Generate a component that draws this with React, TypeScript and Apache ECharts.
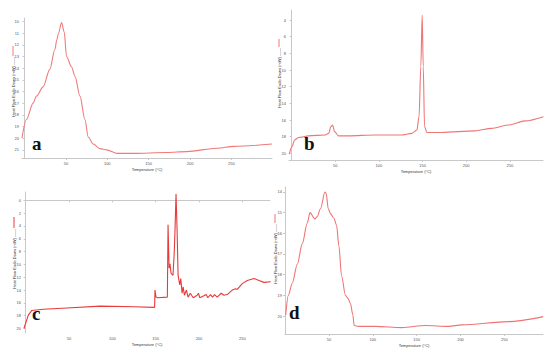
import React, { useEffect, useRef } from "react";
import * as echarts from "echarts";

const tempA = [-3, 2.4, 10.4, 14.5, 22.5, 30.6, 36.7, 39, 40.7, 44.8, 48, 50.8, 56.9, 61, 67, 73, 77, 83, 91.2, 99.3, 111.4, 131.6, 172, 196, 232.6, 252.8, 299];
const flowA = [19.97, 18.4, 17.0, 16.4, 15.6, 14.1, 12.4, 11.6, 11.1, 10.1, 10.9, 13.0, 13.9, 14.7, 16.4, 18.4, 19.9, 20.5, 20.9, 21.0, 21.3, 21.3, 21.23, 21.15, 20.86, 20.7, 20.5];

const tempB = [-2.7, 0.4, 3.4, 8, 19.5, 38.5, 42.4, 45, 47, 49.2, 53.8, 65, 95.8, 126, 137.8, 143.5, 146, 148, 149.6, 150.8, 152.3, 155, 172, 210, 229, 248, 267.6, 288.5];
const flowB = [20.1, 19.2, 18.4, 18.1, 17.9, 17.8, 17.6, 16.8, 16.6, 17.4, 17.9, 17.9, 17.8, 17.8, 17.6, 17.2, 15.6, 9.6, 3.4, 9.6, 16.8, 17.5, 17.5, 17.3, 17.0, 16.6, 16.1, 15.6];

const tempC = [-2.1, 3, 6.8, 20.3, 47.3, 86, 124.5, 148.8, 149.2, 150.4, 152, 163.5, 164.3, 165.5, 166.5, 167.8, 170, 171.5, 172.4, 173.5, 174.7, 175.9, 177.8, 179, 180.5, 181.7, 183.2, 185.5, 187.4, 190, 193.3, 197.9, 199.4, 201, 205.6, 208.3, 210.2, 213.3, 215.6, 218, 221, 225.7, 228.8, 232.6, 238.4, 242.3, 244.2, 250, 255.8, 263.5, 269.3, 275.1, 282.8];
const flowC = [20, 17.9, 17.2, 17.0, 16.8, 16.5, 16.6, 16.7, 14.0, 15.1, 15.2, 15.1, 3.8, 10.6, 9.9, 11.4, 11.7, 8, 4.4, -1.0, 4.4, 11.7, 13.2, 12.2, 14.5, 13.5, 14.8, 14.0, 15.1, 14.5, 15.2, 14.8, 14.5, 15.2, 14.9, 14.7, 15.2, 14.7, 15.1, 14.7, 15.1, 14.5, 14.8, 14.7, 14.0, 13.8, 13.9, 13.0, 12.5, 12.2, 12.5, 12.8, 12.7];

const tempD = [0.8, 3.8, 8.3, 14, 19.7, 25.4, 28.5, 34, 36.7, 40.5, 45.5, 47, 49.2, 51.9, 55.7, 58.7, 61.4, 64.4, 68.9, 72, 74.6, 77.3, 78.8, 84.1, 103, 133.3, 160, 186.4, 201.5, 254.5, 294.3];
const flowD = [19.95, 19.0, 18.4, 17.5, 16.5, 15.5, 15.0, 15.3, 15.2, 14.8, 14.0, 14.08, 14.8, 15.06, 15.27, 15.6, 16.6, 18.05, 19.0, 19.16, 19.4, 19.95, 20.46, 20.5, 20.5, 20.56, 20.46, 20.5, 20.43, 20.27, 20.03];

const xTicks = [50, 100, 150, 200, 250];
const yTicksA = [10, 11, 12, 13, 14, 15, 16, 17, 18, 19, 20, 21];
const yTicksB = [4, 6, 8, 10, 12, 14, 16, 18, 20];
const yTicksC = [0, 2, 4, 6, 8, 10, 12, 14, 16, 18, 20];
const yTicksD = [14, 15, 16, 17, 18, 19, 20];

const panelLetters = ["a", "b", "c", "d"];
const xTitle = "Temperature (°C)";
const yTitle = "Heat Flow Endo Down (mW) ——";

const zip = (xs: number[], ys: number[]) => xs.map((x, i) => [x, ys[i]]);

export default function App() {
  const ref = useRef<HTMLDivElement>(null);
  useEffect(() => {
    if (!ref.current) return;
    const chart = echarts.init(ref.current, null, { renderer: "svg" });
    const grids = [
      { left: 22, top: 18, width: 250, height: 140 },
      { left: 289, top: 10, width: 254, height: 150 },
      { left: 24, top: 192, width: 246, height: 141 },
      { left: 285, top: 187, width: 258, height: 147 },
    ];
    const xr = [
      [-3, 299],
      [-3, 288],
      [-2, 282],
      [0, 294],
    ];
    const yr = [
      [9.7, 21.7],
      [2.8, 20.8],
      [-1.3, 20.7],
      [13.76, 20.87],
    ];
    const yt = [yTicksA, yTicksB, yTicksC, yTicksD];
    const data = [zip(tempA, flowA), zip(tempB, flowB), zip(tempC, flowC), zip(tempD, flowD)];
    const colors = ["#f07a7a", "#ef7676", "#e83a3a", "#ef7474"];
    const axisLine = { show: true, lineStyle: { color: "#c8c8c8", width: 1 } };
    const labelStyle = { fontSize: 4, color: "#555", fontFamily: "Liberation Sans" };

    const yNames = [
      { x: 13, top: 57, r0: 46, r1: 56 },
      { x: 279, top: 48, r0: 39, r1: 47 },
      { x: 14, top: 229, r0: 217, r1: 228 },
      { x: 275, top: 224, r0: 214, r1: 223 },
    ];
    const letters = [
      { x: 32, y: 153 },
      { x: 304, y: 153 },
      { x: 32, y: 323 },
      { x: 289, y: 322 },
    ];
    const graphic: any[] = [];
    yNames.forEach((n, i) => {
      graphic.push({
        type: "text",
        x: n.x,
        y: n.top,
        rotation: Math.PI / 2,
        style: {
          text: yTitle,
          fontSize: 4,
          fill: "#333",
          align: "right",
          verticalAlign: "middle",
          fontFamily: "Liberation Sans",
        },
      });
      graphic.push({
        type: "line",
        shape: { x1: n.x, y1: n.r0, x2: n.x, y2: n.r1 },
        style: { stroke: colors[i], lineWidth: 1 },
      });
    });
    letters.forEach((l, i) => {
      graphic.push({
        type: "text",
        x: l.x,
        y: l.y,
        style: {
          text: panelLetters[i],
          fontSize: 19,
          fontWeight: "bold",
          fill: "#111",
          fontFamily: "Liberation Serif",
          verticalAlign: "bottom",
        },
      });
    });

    chart.setOption({
      animation: false,
      backgroundColor: "#fff",
      grid: grids,
      xAxis: grids.map((_, i) => ({
        type: "value",
        gridIndex: i,
        min: xr[i][0],
        max: xr[i][1],
        axisLine,
        axisTick: { show: true, length: 2, lineStyle: { color: "#c8c8c8" }, customValues: xTicks },
        splitLine: { show: false },
        axisLabel: { ...labelStyle, margin: 3, customValues: xTicks },
        name: xTitle,
        nameLocation: "middle",
        nameGap: 9,
        nameTextStyle: { fontSize: 4, color: "#333", fontFamily: "Liberation Sans" },
      })),
      yAxis: grids.map((_, i) => ({
        type: "value",
        gridIndex: i,
        inverse: true,
        min: yr[i][0],
        max: yr[i][1],
        axisLine,
        axisTick: { show: true, length: 2, lineStyle: { color: "#c8c8c8" }, customValues: yt[i] },
        splitLine: { show: false },
        axisLabel: { ...labelStyle, margin: 3, customValues: yt[i] },
      })),
      series: data.map((d, i) => ({
        type: "line",
        xAxisIndex: i,
        yAxisIndex: i,
        data: d,
        showSymbol: false,
        smooth: i === 2 ? false : 0.3,
        smoothMonotone: "x",
        lineStyle: { color: colors[i], width: 1.1 },
      })),
      graphic,
    });
    return () => chart.dispose();
  }, []);
  return (
    <div
      ref={ref}
      style={{ position: "absolute", left: 0, top: 0, width: 550, height: 351 }}
    />
  );
}
